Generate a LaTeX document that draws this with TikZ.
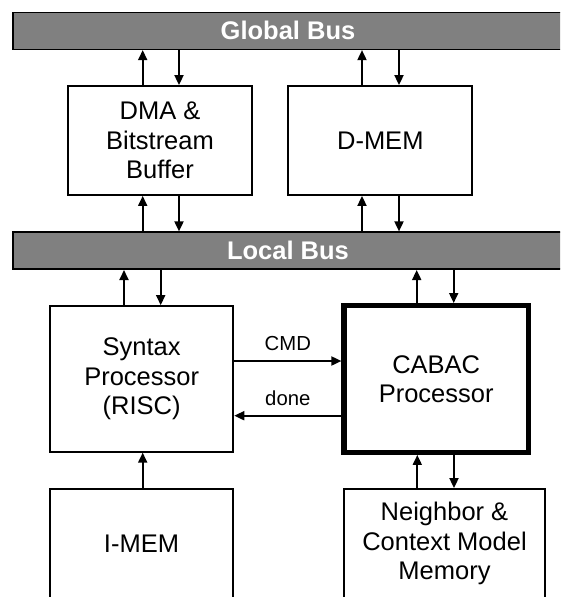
\documentclass[tikz,border=0pt]{standalone}
\usepackage{fontspec}
\setmainfont{Liberation Sans}
\usetikzlibrary{arrows.meta}
\begin{document}
\begin{tikzpicture}[x=1pt,y=-1pt,
  bus/.style={draw=black,line width=1.6pt,fill=black!50,
    minimum width=550pt,minimum height=37pt,inner sep=0pt,
    text=white,font=\fontsize{25.5}{30}\selectfont\bfseries},
  block/.style={draw=black,line width=1.8pt,fill=white,
    minimum width=184pt,minimum height=109pt,inner sep=0pt,
    align=center,font=\fontsize{25.5}{29.5}\selectfont},
  arr/.style={line width=1.8pt,-{Triangle[length=10pt,width=9pt]}},
  sig/.style={font=\fontsize{20.3}{24}\selectfont}
]
\useasboundingbox (0,0) rectangle (560,597);
\clip (0,0) rectangle (560,597);

% buses
\node[bus] (gbus) at (288,30.8) {Global Bus};
\node[bus] (lbus) at (288,250.7) {Local Bus};

% upper blocks
\node[block,minimum width=183.4pt] (dma) at (160,140.5) {DMA \&\\Bitstream\\Buffer};
\node[block] (dmem) at (380.3,140.5) {D-MEM};

% processors
\node[block,minimum width=183.3pt,minimum height=145.7pt] (syn) at (141.7,378.9)
  {Syntax\\Processor\\(RISC)};
\node[block,line width=5.3pt,minimum width=184.3pt,minimum height=146.6pt] (cabac)
  at (436.2,379) {CABAC\\Processor};

% lower memories
\node[block,minimum width=183pt] (imem) at (141.5,543.5) {I-MEM};
\node[block,minimum width=201pt] (nbr) at (444.5,543.5)
  {Neighbor \&\\Context Model\\Memory};

% global bus <-> upper blocks
\draw[arr] (dma.north -| 142.7,0) -- (gbus.south -| 142.7,0);
\draw[arr] (gbus.south -| 179,0) -- (dma.north -| 179,0);
\draw[arr] (dmem.north -| 362,0) -- (gbus.south -| 362,0);
\draw[arr] (gbus.south -| 399,0) -- (dmem.north -| 399,0);

% upper blocks <-> local bus
\draw[arr] (lbus.north -| 142.7,0) -- (dma.south -| 142.7,0);
\draw[arr] (dma.south -| 179,0) -- (lbus.north -| 179,0);
\draw[arr] (lbus.north -| 362,0) -- (dmem.south -| 362,0);
\draw[arr] (dmem.south -| 399,0) -- (lbus.north -| 399,0);

% local bus <-> processors
\draw[arr] (syn.north -| 124,0) -- (lbus.south -| 124,0);
\draw[arr] (lbus.south -| 160.7,0) -- (syn.north -| 160.7,0);
\draw[arr] (cabac.north -| 416.7,0) -- (lbus.south -| 416.7,0);
\draw[arr] (lbus.south -| 453.7,0) -- (cabac.north -| 453.7,0);

% command handshake
\draw[arr] (syn.east |- 0,361) -- node[sig,above=6pt] (cmd) {CMD} (cabac.west |- 0,361);
\draw[arr] (cabac.west |- 0,415.7) -- node[sig,above=6pt] (done) {done} (syn.east |- 0,415.7);

% memories
\draw[arr] (imem.north -| 142.7,0) -- (syn.south -| 142.7,0);
\draw[arr] (nbr.north -| 417.3,0) -- (cabac.south -| 417.3,0);
\draw[arr] (cabac.south -| 454,0) -- (nbr.north -| 454,0);
\end{tikzpicture}
\end{document}
